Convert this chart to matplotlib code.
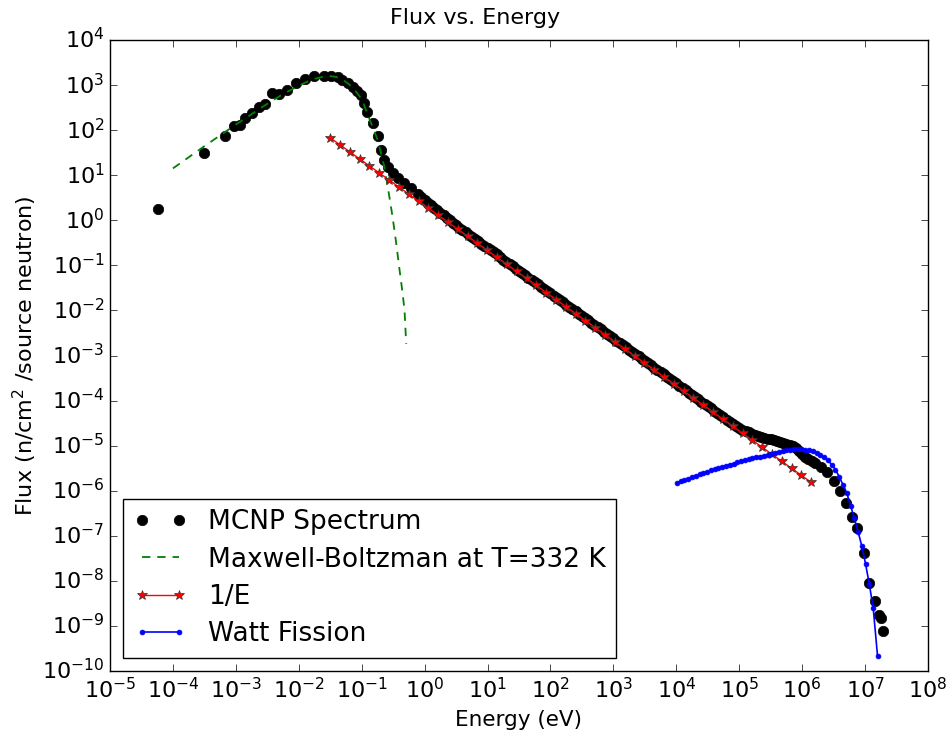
import matplotlib
matplotlib.use("Agg")
import matplotlib.pyplot as plt
from matplotlib.ticker import NullLocator

# MCNP tally (eV, n/cm^2/source neutron)
mcnp_e = [5.89e-5, 3.16e-4, 6.61e-4, 9.33e-4, 1.17e-3, 1.41e-3, 1.82e-3, 2.32e-3,
          2.95e-3, 3.80e-3, 4.83e-3, 6.61e-3, 8.91e-3, 0.0126, 0.0175, 0.0252,
          0.0324, 0.0413, 0.0495, 0.0596, 0.0716, 0.0838, 0.0971, 0.108, 0.121,
          0.149, 0.179, 0.202, 0.229, 0.259, 0.311, 0.374, 0.476, 0.610, 0.794, 0.891,
          1.00, 1.12, 1.26, 1.41, 1.58, 1.78, 2.00, 2.24, 2.51, 2.82,
          3.16, 3.55, 3.98, 4.47, 5.01, 5.62, 6.31, 7.08, 7.94, 8.91,
          10.0, 11.2, 12.6, 14.1, 15.8, 17.8, 20.0, 22.4, 25.1, 28.2,
          31.6, 35.5, 39.8, 44.7, 50.1, 56.2, 63.1, 70.8, 79.4, 89.1,
          100, 112, 126, 141, 158, 178, 200, 224, 251, 282,
          316, 355, 398, 447, 501, 562, 631, 708, 794, 891,
          1000, 1120, 1260, 1410, 1580, 1780, 2000, 2240, 2510, 2820,
          3160, 3550, 3980, 4470, 5010, 5620, 6310, 7080, 7940, 8910,
          1.00e4, 1.12e4, 1.26e4, 1.41e4, 1.58e4, 1.78e4, 2.00e4, 2.24e4, 2.51e4, 2.82e4,
          3.16e4, 3.55e4, 3.98e4, 4.47e4, 5.01e4, 5.62e4, 6.31e4, 7.08e4, 7.94e4, 8.91e4,
          1.00e5, 1.12e5, 1.26e5, 1.41e5, 1.58e5, 1.78e5, 2.00e5, 2.24e5, 2.51e5, 2.82e5,
          3.16e5, 3.55e5, 3.98e5, 4.47e5, 5.01e5, 5.62e5, 6.31e5, 7.08e5, 7.94e5, 8.91e5,
          1.00e6, 1.12e6, 1.26e6, 1.41e6, 1.58e6, 2.00e6, 2.51e6, 3.16e6, 3.98e6, 5.01e6,
          6.31e6, 7.41e6, 9.55e6, 1.15e7, 1.45e7, 1.66e7, 1.78e7, 1.95e7]
mcnp_f = [1.76, 30.8, 74.3, 124, 130, 184, 245, 333,
          381, 658, 625, 780, 1094, 1346, 1618, 1618,
          1618, 1538, 1297, 1094, 923, 752, 604, 395, 257,
          142, 74.3, 36.4, 21.9, 15.5, 11.1, 8.59, 6.64, 5.15, 3.80, 3.27,
          2.82, 2.45, 2.14, 1.88, 1.66, 1.46, 1.29, 1.14, 1.00, 0.881,
          0.776, 0.684, 0.603, 0.537, 0.479, 0.427, 0.380, 0.339, 0.302, 0.269,
          0.245, 0.224, 0.200, 0.176, 0.155, 0.135, 0.120, 0.107, 0.0955, 0.0852,
          0.0759, 0.0676, 0.0603, 0.0537, 0.0479, 0.0427, 0.0380, 0.0339, 0.0302, 0.0269,
          0.0240, 0.0214, 0.0191, 0.0170, 0.0151, 0.0135, 0.0120, 0.0107, 0.00955, 0.00852,
          0.00759, 0.00676, 0.00603, 0.00537, 0.00479, 0.00427, 0.00380, 0.00339, 0.00302, 0.00269,
          0.00240, 0.00214, 0.00191, 0.00170, 0.00151, 0.00135, 0.00120, 0.00107, 9.55e-4, 8.52e-4,
          7.59e-4, 6.76e-4, 6.03e-4, 5.37e-4, 4.79e-4, 4.27e-4, 3.80e-4, 3.39e-4, 3.02e-4, 2.69e-4,
          2.40e-4, 2.14e-4, 1.91e-4, 1.70e-4, 1.51e-4, 1.35e-4, 1.20e-4, 1.07e-4, 9.55e-5, 8.52e-5,
          7.59e-5, 6.76e-5, 6.03e-5, 5.37e-5, 4.79e-5, 4.27e-5, 3.80e-5, 3.39e-5, 3.09e-5, 2.75e-5,
          2.45e-5, 2.26e-5, 2.09e-5, 1.97e-5, 1.86e-5, 1.76e-5, 1.66e-5, 1.58e-5, 1.51e-5, 1.44e-5,
          1.38e-5, 1.32e-5, 1.26e-5, 1.20e-5, 1.15e-5, 1.10e-5, 1.05e-5, 9.77e-6, 8.91e-6, 7.59e-6,
          6.46e-6, 5.69e-6, 5.01e-6, 4.57e-6, 4.17e-6, 3.39e-6, 2.57e-6, 1.62e-6, 9.77e-7, 5.25e-7,
          2.57e-7, 1.48e-7, 4.17e-8, 8.91e-9, 3.55e-9, 1.78e-9, 1.51e-9, 7.59e-10]

# Maxwell-Boltzmann at T=332 K
mb_e = [1.00e-4, 3.16e-4, 1.00e-3, 3.16e-3, 5.62e-3, 0.0100, 0.0158, 0.0251, 0.0316,
        0.0398, 0.0501, 0.0631, 0.0794, 0.100, 0.126, 0.158, 0.178, 0.200, 0.229,
        0.251, 0.275, 0.302, 0.331, 0.363, 0.398, 0.437, 0.479, 0.510]
mb_f = [14.2, 44.1, 133, 385, 632, 968, 1315, 1552, 1589,
        1514, 1315, 1040, 746, 489, 214, 95.9, 62.8, 33.2, 15.6,
        7.16, 3.37, 1.48, 0.617, 0.234, 0.0830, 0.0308, 0.0104, 0.00182]

# 1/E slowing-down spectrum
inv_e = [0.0316, 0.0453, 0.0649, 0.0929, 0.133, 0.191, 0.273, 0.391, 0.560, 0.802,
         1.15, 1.64, 2.36, 3.37, 4.83, 6.92, 9.91, 14.2, 20.3, 29.1,
         41.7, 59.7, 85.5, 122, 175, 251, 360, 515, 738, 1057,
         1514, 2168, 3105, 4446, 6368, 9120, 1.31e4, 1.87e4, 2.68e4, 3.84e4,
         5.50e4, 7.87e4, 1.13e5, 1.61e5, 2.31e5, 3.31e5, 4.74e5, 6.79e5, 9.73e5, 1.39e6]
inv_f = [67.7, 47.2, 33.0, 23.0, 16.1, 11.2, 7.84, 5.47, 3.82, 2.67,
         1.86, 1.30, 0.907, 0.635, 0.443, 0.309, 0.216, 0.151, 0.105, 0.0735,
         0.0513, 0.0358, 0.0250, 0.0175, 0.0122, 0.00853, 0.00594, 0.00416, 0.00290, 0.00202,
         0.00141, 9.87e-4, 6.89e-4, 4.81e-4, 3.36e-4, 2.35e-4, 1.63e-4, 1.14e-4, 7.99e-5, 5.57e-5,
         3.89e-5, 2.72e-5, 1.89e-5, 1.33e-5, 9.26e-6, 6.47e-6, 4.51e-6, 3.15e-6, 2.20e-6, 1.54e-6]

# Watt fission spectrum
watt_e = [1.02e4, 1.17e4, 1.35e4, 1.55e4, 1.78e4, 2.04e4, 2.34e4, 2.69e4, 3.09e4, 3.55e4,
          4.07e4, 4.68e4, 5.37e4, 6.17e4, 7.08e4, 8.13e4, 9.33e4, 1.07e5, 1.23e5, 1.41e5,
          1.62e5, 1.86e5, 2.14e5, 2.45e5, 2.82e5, 3.24e5, 3.72e5, 4.27e5, 4.90e5, 5.62e5,
          6.46e5, 7.41e5, 8.51e5, 9.77e5, 1.12e6, 1.29e6, 1.48e6, 1.70e6, 1.95e6, 2.24e6,
          2.57e6, 2.95e6, 3.39e6, 3.89e6, 4.47e6, 5.13e6, 5.89e6, 6.76e6, 7.76e6, 8.91e6,
          1.02e7, 1.17e7, 1.35e7, 1.58e7]
watt_f = [1.50e-6, 1.61e-6, 1.73e-6, 1.86e-6, 2.00e-6, 2.14e-6, 2.30e-6, 2.48e-6, 2.66e-6, 2.84e-6,
          3.03e-6, 3.22e-6, 3.40e-6, 3.60e-6, 3.80e-6, 4.02e-6, 4.25e-6, 4.48e-6, 4.71e-6, 4.95e-6,
          5.20e-6, 5.47e-6, 5.75e-6, 6.03e-6, 6.31e-6, 6.61e-6, 6.92e-6, 7.23e-6, 7.52e-6, 7.82e-6,
          8.13e-6, 8.24e-6, 8.38e-6, 8.32e-6, 8.18e-6, 7.89e-6, 7.45e-6, 6.90e-6, 6.25e-6, 5.58e-6,
          4.69e-6, 3.82e-6, 2.94e-6, 2.04e-6, 1.35e-6, 8.91e-7, 4.67e-7, 2.44e-7, 1.23e-7, 5.81e-8,
          2.37e-8, 8.41e-9, 2.47e-9, 2.14e-10]

plt.style.use("classic")
plt.rcParams.update({"figure.facecolor": "white", "savefig.facecolor": "white",
                     "mathtext.fontset": "dejavusans", "font.family": "DejaVu Sans"})

fig = plt.figure(figsize=(9.5, 7.4), dpi=100)
ax = fig.add_axes([0.1158, 0.0932, 0.861, 0.8527])

ax.loglog(mcnp_e, mcnp_f, "ko", ms=7.5, mec="k", label="MCNP Spectrum")
ax.loglog(mb_e, mb_f, "g--", lw=1.3, dashes=(6, 5), label="Maxwell-Boltzman at T=332 K")
ax.loglog(inv_e, inv_f, "r*-", ms=7, mec="0.2", mew=0.5, lw=1.0, label="1/E")
ax.loglog(watt_e, watt_f, "bo-", ms=3.5, mec="b", lw=1.2, label="Watt Fission")

ax.set_xlim(1e-5, 1e8)
ax.set_ylim(1e-10, 1e4)
ax.xaxis.set_minor_locator(NullLocator())
ax.yaxis.set_minor_locator(NullLocator())
ax.tick_params(which="major", length=5, labelsize=16)

fig.suptitle("Flux vs. Energy", fontsize=16, y=0.9757, va="center")
ax.set_xlabel("Energy (eV)", fontsize=15.5, labelpad=6)
ax.set_ylabel("Flux (n/cm$^2$ /source neutron)", fontsize=16, labelpad=2)

ax.legend(loc="lower left", numpoints=2, fontsize=19, frameon=True, fancybox=False,
          labelspacing=0.43)

fig.savefig("out.png", dpi=100)
